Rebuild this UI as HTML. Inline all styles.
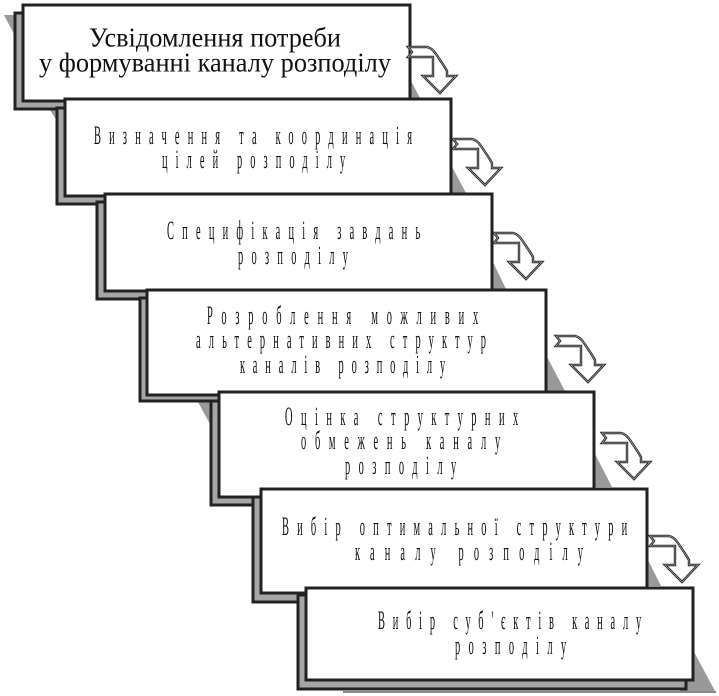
<!DOCTYPE html>
<html><head><meta charset="utf-8"><style>
html,body{margin:0;padding:0;background:#fff}
svg{display:block}
text{font-family:"Liberation Serif",serif;fill:#111}
</style></head><body>
<svg width="719" height="696" viewBox="0 0 719 696" xmlns="http://www.w3.org/2000/svg">
<defs>
<g id="ar">
<path d="M1 0H20Q25 1 29 7L37 19L40 24V29H49L33 46L16 29H26V10H1L5 5Z" fill="#fff" stroke="#222" stroke-width="2.4" stroke-linejoin="miter" stroke-miterlimit="3"/>
<path d="M1 0H20Q25 1 29 7L37 19L40 24V29H49L33 46L16 29H26V10H1L5 5Z" fill="none" stroke="#aaa" stroke-width=".7"/>
</g>
</defs>
<g fill="#999">
<polygon points="4,15 15,15 15,36"/>
<polygon points="410,79 420,98 410,98"/>
<polygon points="50,110 57,110 57,121"/>
<polygon points="451,165 466,193 451,193"/>
<polygon points="492,260 506,289 492,289"/>
<polygon points="546,355 565,391 546,391"/>
<polygon points="198,402 211,402 211,426"/>
<polygon points="594,452 612,487 594,487"/>
<polygon points="647,558 661,586 647,586"/>
<polygon points="693,650 715,691 680,691 680,670"/>
</g>
<line x1="343" y1="692" x2="716" y2="692" stroke="#444" stroke-width="1.2"/>
<g stroke="#222" stroke-width="3" stroke-linejoin="miter">
<polygon points="15,13 30,13 30,100 120,100 120,109 15,109" fill="#a6a6a6"/>
<rect x="23" y="5" width="387" height="96" fill="#fff"/>
<polygon points="57,108 72,108 72,195 160,195 160,204 57,204" fill="#a6a6a6"/>
<rect x="65" y="99" width="386" height="97" fill="#fff"/>
<polygon points="97,202 112,202 112,290 200,290 200,299 97,299" fill="#a6a6a6"/>
<rect x="105" y="194" width="387" height="97" fill="#fff"/>
<polygon points="140,298 155,298 155,394 240,394 240,401 140,401" fill="#a6a6a6"/>
<rect x="147" y="290" width="399" height="105" fill="#fff"/>
<polygon points="211,401 226,401 226,490 300,490 300,505 211,505" fill="#a6a6a6"/>
<rect x="219" y="392" width="375" height="105" fill="#fff"/>
<polygon points="253,497 268,497 268,590 330,590 330,602 253,602" fill="#a6a6a6"/>
<rect x="261" y="489" width="386" height="104" fill="#fff"/>
<polygon points="298,595 312,595 312,680 686,680 686,689 298,689" fill="#a6a6a6"/>
<rect x="306" y="588" width="387" height="92" fill="#fff"/>
</g>
<use href="#ar" x="407" y="47"/>
<use href="#ar" x="452" y="139"/>
<use href="#ar" x="493" y="233"/>
<use href="#ar" x="555" y="336"/>
<use href="#ar" x="601" y="433"/>
<use href="#ar" x="649" y="536"/>

<g font-size="27">
<text x="89" y="46.5" textLength="252" lengthAdjust="spacingAndGlyphs">Усвідомлення потреби</text>
<text x="39" y="71.5" textLength="352" lengthAdjust="spacingAndGlyphs">у формуванні каналу розподілу</text>
</g>
<g font-size="26">
<g transform="translate(94,144) scale(.4,1)"><text textLength="795" lengthAdjust="spacing">Визначення та координація</text></g>
<g transform="translate(162,168) scale(.4,1)"><text textLength="458" lengthAdjust="spacing">цілей розподілу</text></g>
<g transform="translate(167,239) scale(.4,1)"><text textLength="633" lengthAdjust="spacing">Специфікація завдань</text></g>
<g transform="translate(238,264) scale(.4,1)"><text textLength="275" lengthAdjust="spacing">розподілу</text></g>
<g transform="translate(207,324) scale(.4,1)"><text textLength="678" lengthAdjust="spacing">Розроблення можливих</text></g>
<g transform="translate(196,348) scale(.4,1)"><text textLength="725" lengthAdjust="spacing">альтернативних структур</text></g>
<g transform="translate(240,373) scale(.4,1)"><text textLength="513" lengthAdjust="spacing">каналів розподілу</text></g>
<g transform="translate(285,425) scale(.4,1)"><text textLength="583" lengthAdjust="spacing">Оцінка структурних</text></g>
<g transform="translate(301,449) scale(.4,1)"><text textLength="498" lengthAdjust="spacing">обмежень каналу</text></g>
<g transform="translate(345,474) scale(.4,1)"><text textLength="278" lengthAdjust="spacing">розподілу</text></g>
<g transform="translate(282,535) scale(.4,1)"><text textLength="863" lengthAdjust="spacing">Вибір оптимальної структури</text></g>
<g transform="translate(355,560) scale(.4,1)"><text textLength="570" lengthAdjust="spacing">каналу розподілу</text></g>
<g transform="translate(378,629) scale(.4,1)"><text textLength="658" lengthAdjust="spacing">Вибір суб'єктів каналу</text></g>
<g transform="translate(455,654) scale(.4,1)"><text textLength="278" lengthAdjust="spacing">розподілу</text></g>
</g>
</svg>
</body></html>
